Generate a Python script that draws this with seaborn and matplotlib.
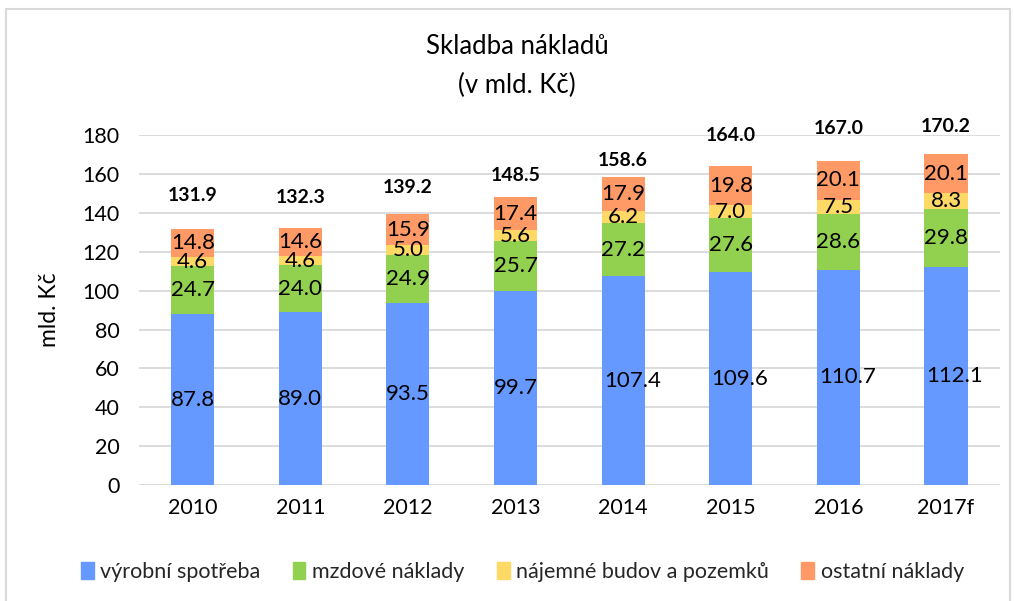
import numpy as np
import pandas as pd
import matplotlib
matplotlib.use("Agg")
import matplotlib.pyplot as plt
import matplotlib.patches as mpatches
import seaborn as sns

years = ['2010', '2011', '2012', '2013', '2014', '2015', '2016', '2017f']
vyrobni = [87.8, 89.0, 93.5, 99.7, 107.4, 109.6, 110.7, 112.1]
mzdove = [24.7, 24.0, 24.9, 25.7, 27.2, 27.6, 28.6, 29.8]
najemne = [4.6, 4.6, 5.0, 5.6, 6.2, 7.0, 7.5, 8.3]
ostatni = [14.8, 14.6, 15.9, 17.4, 17.9, 19.8, 20.1, 20.1]
totals = [131.9, 132.3, 139.2, 148.5, 158.6, 164.0, 167.0, 170.2]

series_names = ['výrobní spotřeba', 'mzdové náklady', 'nájemné budov a pozemků', 'ostatní náklady']
colors = ['#6699FF', '#92D050', '#FFD966', '#FF9966']

# where the bold totals sit (as in the original, not exactly on the bar top)
total_label_y = [149.2, 148.1, 153.3, 159.5, 167.2, 180.0, 183.6, 184.7]

sns.set_theme(style='white')
plt.rcParams['font.family'] = ['Lato', 'DejaVu Sans']

layers = np.array([vyrobni, mzdove, najemne, ostatni])
cum = layers.cumsum(axis=0)
bar_w = 0.4

fig = plt.figure(figsize=(10.14, 6.01), dpi=100)
ax = fig.add_axes([0.137, 0.193, 0.849, 0.582])

# stacked bars: draw cumulative sums from the top layer down
for i in range(3, -1, -1):
    d = pd.DataFrame({'rok': years, 'val': cum[i]})
    sns.barplot(data=d, x='rok', y='val', color=colors[i], width=bar_w,
                saturation=1, linewidth=0, ax=ax)

for i in range(4):
    for j in range(len(years)):
        v = layers[i][j]
        mid = cum[i][j] - v / 2
        if v >= 100:
            # long labels start at the bar's left edge and spill to the right
            ax.text(j - bar_w / 2 + 0.02, mid, f'{v:.1f}', ha='left', va='center',
                    fontsize=16, color='black')
        else:
            ax.text(j, mid, f'{v:.1f}', ha='center', va='center',
                    fontsize=16, color='black')

for j, t in enumerate(totals):
    ax.text(j, total_label_y[j], f'{t:.1f}', ha='center', va='center',
            fontsize=14, fontweight='bold', color='black')

ax.set_ylim(0, 180)
ax.set_yticks(range(0, 181, 20))
ax.set_xlim(-0.5, 7.5)
ax.yaxis.grid(True, color='#D9D9D9', linewidth=1.3)
ax.set_axisbelow(True)
for s in ax.spines.values():
    s.set_visible(False)
ax.tick_params(axis='both', length=0, labelsize=15.5, colors='black', pad=9)
ax.tick_params(axis='y', pad=14)
ax.set_xlabel('')
ax.set_ylabel('mld. Kč', fontsize=16.5, color='black', labelpad=16)

fig.text(0.51, 0.922, 'Skladba nákladů', ha='center', va='center', fontsize=18.5, color='black')
fig.text(0.51, 0.858, '(v mld. Kč)', ha='center', va='center', fontsize=18.5, color='black')

handles = [mpatches.Patch(color=c, label=n) for c, n in zip(colors, series_names)]
fig.legend(handles=handles, loc='center', bbox_to_anchor=(0.515, 0.048), ncol=4,
           frameon=False, fontsize=15.5, handlelength=0.6, handleheight=0.8,
           handletextpad=0.3, columnspacing=1.5)

fig.patches.append(mpatches.Rectangle((0.006, -0.01), 0.99, 0.995, transform=fig.transFigure,
                                      fill=False, edgecolor='#D9D9D9', linewidth=1.5))

fig.savefig('out.png', dpi=100)
